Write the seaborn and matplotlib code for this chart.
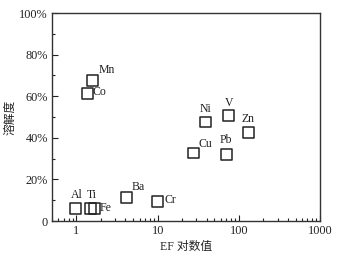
import matplotlib
matplotlib.use("Agg")
import matplotlib.pyplot as plt
from matplotlib.ticker import LogLocator, FixedLocator, NullFormatter
import pandas as pd
import seaborn as sns

# EF values and solubility (%)
elements = ["Al", "Ti", "Fe", "Ba", "Cr", "Mn", "Co", "Ni", "V", "Zn", "Cu", "Pb"]
ef = [0.98, 1.5, 1.67, 4.1, 10.0, 1.58, 1.36, 38.5, 75, 130, 28, 70]
solubility = [6.2, 6.2, 6.2, 11.5, 9.6, 67.5, 61.2, 47.6, 50.5, 42.6, 32.7, 32.0]

# label offsets (points) and alignment, per element
label_offsets = {
    "Al": (1, 5, "center"), "Ti": (1, 5, "center"), "Fe": (4, 0, "left"),
    "Ba": (4, 3, "left"), "Cr": (5, 1, "left"), "Mn": (4, 3, "left"),
    "Co": (4, 1.5, "left"), "Ni": (0, 5, "center"), "V": (0, 5, "center"),
    "Zn": (0, 5, "center"), "Cu": (3, 2.5, "left"), "Pb": (0, 6, "center"),
}

df = pd.DataFrame({"element": elements, "ef": ef, "solubility": solubility})

sns.set_style("ticks")
plt.rcParams["font.family"] = ["Liberation Serif", "Noto Sans CJK SC"]
plt.rcParams["axes.unicode_minus"] = False

fig = plt.figure(figsize=(3.52, 2.57), dpi=100)
ax = fig.add_axes([52 / 352, 36 / 257, 268 / 352, 208 / 257])

sns.scatterplot(
    data=df, x="ef", y="solubility", ax=ax,
    marker="s", s=62, facecolors="none", edgecolor="#222222", linewidth=1.1,
    legend=False,
)

for name, x, y in zip(elements, ef, solubility):
    dx, dy, ha = label_offsets[name]
    ax.annotate(name, (x, y), xytext=(dx, dy), textcoords="offset points",
                ha=ha, va="bottom" if dy > 2 else "center", fontsize=8.5,
                color="#222222")

ax.set_xscale("log")
ax.set_xlim(0.5, 1000)
ax.set_ylim(0, 100)
ax.xaxis.set_major_locator(FixedLocator([1, 10, 100, 1000]))
ax.xaxis.set_minor_locator(LogLocator(base=10, subs=range(2, 10)))
ax.xaxis.set_minor_formatter(NullFormatter())
ax.set_xticklabels(["1", "10", "100", "1000"])
ax.set_yticks([0, 20, 40, 60, 80, 100])
ax.set_yticklabels(["0", "20%", "40%", "60%", "80%", "100%"])
ax.set_yticks([10, 30, 50, 70, 90], minor=True)

ax.tick_params(axis="both", which="both", direction="in", labelsize=8.8,
               color="#222222", labelcolor="#222222", width=0.8)
ax.tick_params(which="major", length=4, pad=3)
ax.tick_params(which="minor", length=2.5)
for sp in ax.spines.values():
    sp.set_visible(True)
    sp.set_linewidth(1.0)
    sp.set_color("#333333")

ax.set_xlabel("EF 对数值", fontsize=8.5, labelpad=3, color="#222222")
ax.set_ylabel("溶解度", fontsize=8.5, labelpad=2, color="#222222")

fig.savefig("out.png", dpi=100)
